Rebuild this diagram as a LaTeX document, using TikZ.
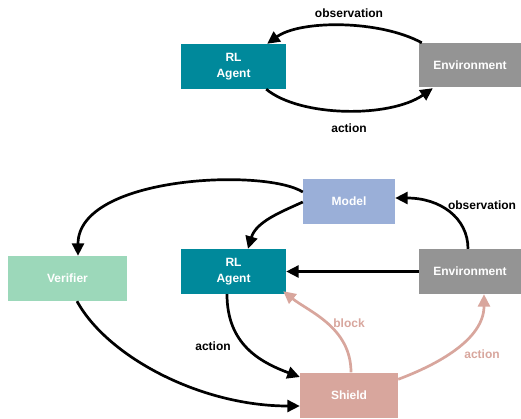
\documentclass[tikz,border=0pt]{standalone}
\usepackage{fontspec}
\setmainfont{Liberation Sans}
\usetikzlibrary{arrows.meta,calc}

\definecolor{agentteal}{HTML}{00899B}
\definecolor{envgray}{HTML}{949494}
\definecolor{modelblue}{HTML}{9AAFD8}
\definecolor{verimint}{HTML}{9CD8BA}
\definecolor{shieldpink}{HTML}{D8A69D}

\tikzset{
  box/.style={rectangle, inner sep=0pt, minimum height=45pt, text=white,
              font=\fontsize{12}{15.5}\selectfont\bfseries, align=center},
  lbl/.style={inner sep=0pt, font=\fontsize{12}{14}\selectfont\bfseries},
  flow/.style={line width=2.7pt, -{Triangle[length=12.5pt,width=12pt]}},
  pinkflow/.style={flow, shieldpink},
}

\begin{document}
\begin{tikzpicture}[x=1pt,y=1pt]
\useasboundingbox (0,0) rectangle (521,418);

% ---- basic loop ----
\node[box, fill=agentteal, minimum width=105pt] (agentA) at (233.5,351.5) {RL\\Agent};
\node[box, fill=envgray, minimum width=102pt, minimum height=44pt] (envA) at (470,353) {Environment};

\draw[flow] ($(envA.north west)+(3,0)$) .. controls +(-42,23) and +(33,24) .. ($(agentA.north east)+(-19,0)$);
\draw[flow] ($(agentA.south east)+(-20,0)$) .. controls +(34,-28) and +(-43,-30) .. ($(envA.south west)+(14,-1)$);

\node[lbl] (obsA) at (349,405) {observation};
\node[lbl] (actA) at (349,290) {action};

% ---- shielded loop ----
\node[box, fill=modelblue, minimum width=92pt] (model) at (349,216.5) {Model};
\node[box, fill=envgray, minimum width=102pt] (envB) at (470,146.5) {Environment};
\node[box, fill=agentteal, minimum width=105pt] (agentB) at (233.5,146.5) {RL\\Agent};
\node[box, fill=verimint, minimum width=119pt] (verifier) at (67.5,139.5) {Verifier};
\node[box, fill=shieldpink, minimum width=98pt] (shield) at (349,23) {Shield};

\draw[flow] ($(model.west)+(0,9.5)$) .. controls +(-38,24) and +(0,80) .. ($(verifier.north)+(10.5,0)$);
\draw[flow] ($(model.west)+(0,-0.5)$) .. controls +(-22,-10) and +(8,27) .. ($(agentB.north)+(14.5,0)$);
\draw[flow] ($(envB.north)+(-2,0)$) .. controls +(0,31) and +(45,0) .. ($(model.east)+(0,3.5)$);
\draw[flow] (envB.west) -- (agentB.east);
\draw[flow] ($(agentB.south)+(-6.5,0)$) .. controls +(0,-50) and +(-40,15) .. ($(shield.west)+(0,18)$);
\draw[flow] ($(verifier.south)+(9.5,0)$) .. controls +(30,-55) and +(-100,0) .. ($(shield.west)+(0,-11)$);
\draw[pinkflow] ($(shield.north)+(2,0)$) .. controls +(0,45) and +(25,-20) .. ($(agentB.south east)+(-3,3)$);
\draw[pinkflow] ($(shield.north east)+(0,-7)$) .. controls +(40,15) and +(0,-45) .. ($(envB.south)+(14,0)$);

\node[lbl] (obsB) at (482,213) {observation};
\node[lbl] (actB) at (213,72) {action};
\node[lbl, text=shieldpink] (block) at (349,95) {block};
\node[lbl, text=shieldpink] (actC) at (482,64) {action};
\end{tikzpicture}
\end{document}
